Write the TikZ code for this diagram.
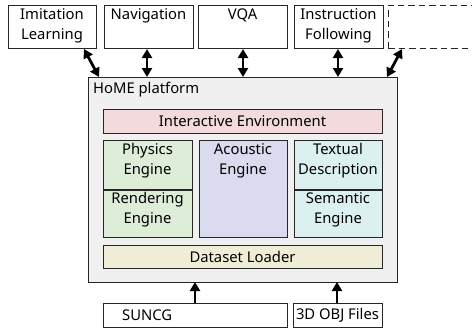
\documentclass[tikz,border=0pt]{standalone}
\usepackage{fontspec}
\setmainfont{Noto Sans}
\usetikzlibrary{arrows.meta}
\definecolor{cpink}{HTML}{F2DADD}
\definecolor{cgreen}{HTML}{DDEDD8}
\definecolor{clav}{HTML}{DBDBF0}
\definecolor{ccyan}{HTML}{DBF0F0}
\definecolor{cbeige}{HTML}{F0EDD6}
\definecolor{cgray}{HTML}{F0F0F0}
\tikzset{
  txt/.style={font=\fontsize{14.8}{19.5}\selectfont, inner sep=0pt},
  box/.style={draw=black!85, line width=0.9pt, inner sep=0pt, outer sep=0pt},
  lbl/.style={txt, align=center, anchor=north},
  dbl/.style={line width=2.8pt, {Triangle[length=9pt,width=10pt]}-{Triangle[length=9pt,width=10pt]}},
  sgl/.style={line width=2.8pt, -{Triangle[length=9pt,width=10pt]}},
}
\begin{document}
\begin{tikzpicture}[x=1pt,y=-1pt]
\useasboundingbox (0,0) rectangle (472,330);
% top boxes
\draw[box] (8,5) rectangle (96,48);
\node[lbl] (il) at (52,8.5) {Imitation\\Learning};
\draw[box] (104,5) rectangle (193,48);
\node[lbl] (nav) at (148.5,8.5) {Navigation};
\draw[box] (198,5) rectangle (287,48);
\node[lbl] (vqa) at (242.5,8.5) {VQA};
\draw[box] (294,5) rectangle (383,48);
\node[lbl] (inf) at (338.5,8.5) {Instruction\\Following};
\draw[box, dash pattern=on 6.5pt off 4pt] (388,48) -- (388,5) -- (480,5);
\draw[box, dash pattern=on 6.5pt off 4pt] (388,48) -- (480,48);
% platform
\draw[box, fill=cgray] (88,77) rectangle (397,282);
\node[txt, anchor=base west] (plat) at (93,93) {HoME platform};
\draw[box, fill=cpink] (103,109) rectangle (382,133);
\node[txt] (ie) at (242.5,121) {Interactive Environment};
\draw[box, fill=cgreen] (103,140) rectangle (192,189);
\node[lbl] (pe) at (147.5,143.5) {Physics\\Engine};
\draw[box, fill=cgreen] (103,190) rectangle (192,237);
\node[lbl] (re) at (147.5,192.5) {Rendering\\Engine};
\draw[box, fill=clav] (199,140) rectangle (287,237);
\node[lbl] (ae) at (243,143.5) {Acoustic\\Engine};
\draw[box, fill=ccyan] (294,140) rectangle (382,189);
\node[lbl] (td) at (338,143.5) {Textual\\Description};
\draw[box, fill=ccyan] (294,190) rectangle (382,237);
\node[lbl] (se) at (338,192.5) {Semantic\\Engine};
\draw[box, fill=cbeige] (103,245) rectangle (382,268);
\node[txt] (dl) at (242.5,256.5) {Dataset Loader};
% bottom
\draw[box] (103,303) rectangle (287,327);
\node[txt, anchor=west] (sun) at (122,315) {SUNCG};
\draw[box] (293,303) rectangle (382,327);
\node[txt] (obj) at (337.5,315) {3D OBJ Files};
% arrows
\coordinate (a1t) at (84,49); \coordinate (a1b) at (99,77);
\coordinate (a2t) at (147,49); \coordinate (a2b) at (147,77);
\coordinate (a3t) at (243,49); \coordinate (a3b) at (243,77);
\coordinate (a4t) at (338,49); \coordinate (a4b) at (338,77);
\coordinate (a5t) at (402,49); \coordinate (a5b) at (387,77);
\draw[dbl] (a1t) -- (a1b);
\draw[dbl] (a2t) -- (a2b);
\draw[dbl] (a3t) -- (a3b);
\draw[dbl] (a4t) -- (a4b);
\draw[dbl] (a5t) -- (a5b);
\coordinate (b1s) at (195,303); \coordinate (b1e) at (195,282);
\coordinate (b2s) at (337,303); \coordinate (b2e) at (337,282);
\draw[sgl] (b1s) -- (b1e);
\draw[sgl] (b2s) -- (b2e);
\end{tikzpicture}
\end{document}
